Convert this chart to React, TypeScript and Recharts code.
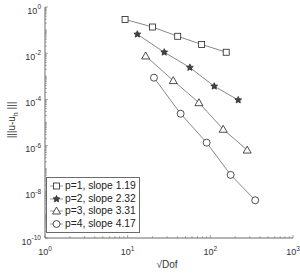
import React from 'react';
import { ScatterChart, Scatter, XAxis, YAxis, Legend } from 'recharts';

// sqrt(Dof) and energy-norm error per polynomial degree
const p1X = [9.3, 20.0, 40.3, 78.5, 155.6];
const p1Y = [0.29, 0.136, 0.054, 0.024, 0.011];
const p2X = [13.1, 27.7, 56.6, 111.5, 217.5];
const p2Y = [0.066, 0.011, 0.0024, 3.7e-4, 9.4e-5];
const p3X = [16.5, 35.6, 72.8, 143, 279];
const p3Y = [0.0076, 6.5e-4, 7.2e-5, 5.1e-6, 6.4e-7];
const p4X = [20.8, 43.7, 90.2, 176, 349];
const p4Y = [8.7e-4, 2.4e-5, 1.34e-6, 5.4e-8, 4.3e-9];

const seriesNames = ['p=1, slope 1.19', 'p=2, slope 2.32', 'p=3, slope 3.31', 'p=4, slope 4.17'];
const markers = ['square', 'star', 'triangle', 'circle'];

const xMajor = [1, 10, 100, 1000];
const yLabeled = [1e-10, 1e-8, 1e-6, 1e-4, 1e-2, 1];

const xTicks: number[] = [];
for (let d = 0; d < 3; d++) for (let k = 1; k < 10; k++) xTicks.push(k * Math.pow(10, d));
xTicks.push(1000);
const yTicks: number[] = [];
for (let d = -10; d < 0; d++) for (let k = 1; k < 10; k++) yTicks.push(k * Math.pow(10, d));
yTicks.push(1);

const zip = (xs: number[], ys: number[]) => xs.map((x, i) => ({ x, y: ys[i] }));
const series = [zip(p1X, p1Y), zip(p2X, p2Y), zip(p3X, p3Y), zip(p4X, p4Y)];

const AX = '#6b6b6b';
const TXT = '#333';
const MK = '#222';

const isMajor = (v: number, list: number[]) => list.some((m) => Math.abs(Math.log10(v) - Math.log10(m)) < 1e-6);

function Marker({ kind, cx, cy }: { kind: string; cx: number; cy: number }) {
  const s = 3;
  if (kind === 'square')
    return <rect x={cx - s} y={cy - s} width={2 * s} height={2 * s} fill="#fff" stroke={MK} strokeWidth={0.8} />;
  if (kind === 'circle') return <circle cx={cx} cy={cy} r={3.5} fill="#fff" stroke={MK} strokeWidth={0.8} />;
  if (kind === 'triangle')
    return (
      <polygon
        points={`${cx},${cy - 4} ${cx - 4},${cy + 3} ${cx + 4},${cy + 3}`}
        fill="#fff"
        stroke={MK}
        strokeWidth={0.8}
      />
    );
  const pts: string[] = [];
  for (let i = 0; i < 10; i++) {
    const r = i % 2 === 0 ? 3.6 : 1.7;
    const a = -Math.PI / 2 + (i * Math.PI) / 5;
    pts.push(`${cx + r * Math.cos(a)},${cy + r * Math.sin(a)}`);
  }
  return <polygon points={pts.join(' ')} fill="#444" stroke={MK} strokeWidth={0.7} />;
}

function Sup({ x, y, exp, anchor }: { x: number; y: number; exp: number; anchor: 'middle' | 'end' }) {
  return (
    <text x={x} y={y} textAnchor={anchor} fill={TXT} fontSize={9} fontFamily="Liberation Sans, Arial, sans-serif">
      <tspan>10</tspan>
      <tspan dy={-4.5} fontSize={6.5}>
        {exp}
      </tspan>
    </text>
  );
}

function XTick(props: any) {
  const { x, y, payload, side } = props;
  const major = isMajor(payload.value, xMajor);
  const len = major ? 3 : 1.8;
  const dir = side === 'bottom' ? -1 : 1;
  return (
    <g>
      <line x1={x} y1={y} x2={x} y2={y + dir * len} stroke={AX} strokeWidth={0.6} />
      {side === 'bottom' && major && <Sup x={x} y={y + 17} exp={Math.round(Math.log10(payload.value))} anchor="middle" />}
    </g>
  );
}

function YTick(props: any) {
  const { x, y, payload, side } = props;
  const major = isMajor(payload.value, yLabeled);
  const len = major ? 3 : 1.8;
  const dir = side === 'left' ? 1 : -1;
  return (
    <g>
      <line x1={x} y1={y} x2={x + dir * len} y2={y} stroke={AX} strokeWidth={0.6} />
      {side === 'left' && major && <Sup x={x - 4} y={y + 6.5} exp={Math.round(Math.log10(payload.value))} anchor="end" />}
    </g>
  );
}

function LegendBox() {
  return (
    <div
      style={{
        border: `1px solid ${AX}`,
        background: '#fff',
        padding: '2px 3px 2px 2px',
        fontFamily: 'Liberation Sans, Arial, sans-serif',
        fontSize: 10.3,
        color: '#222',
        lineHeight: '12px',
      }}
    >
      {seriesNames.map((name, i) => (
        <div key={name} style={{ display: 'flex', alignItems: 'center', height: 12.5 }}>
          <svg width={15} height={12} style={{ marginRight: 1 }}>
            <line x1={1} y1={6} x2={14} y2={6} stroke="#555" strokeWidth={0.6} />
            <Marker kind={markers[i]} cx={7.5} cy={6} />
          </svg>
          <span>{name}</span>
        </div>
      ))}
    </div>
  );
}

export default function App() {
  return (
    <div style={{ position: 'absolute', left: 0, top: 0, width: 300, height: 273, background: '#fff' }}>
      <ScatterChart width={300} height={273} margin={{ top: 7, right: 7, bottom: 0, left: 0 }}>
        <XAxis
          xAxisId="b"
          dataKey="x"
          type="number"
          scale="log"
          domain={[1, 1000]}
          allowDataOverflow
          ticks={xTicks}
          interval={0}
          height={35}
          tickSize={0}
          tickMargin={0}
          stroke={AX}
          tick={(p: any) => <XTick {...p} side="bottom" />}
        />
        <XAxis
          xAxisId="t"
          orientation="top"
          type="number"
          scale="log"
          domain={[1, 1000]}
          allowDataOverflow
          ticks={xTicks}
          interval={0}
          height={0}
          tickSize={0}
          tickMargin={0}
          stroke={AX}
          tick={(p: any) => <XTick {...p} side="top" />}
        />
        <YAxis
          yAxisId="l"
          dataKey="y"
          type="number"
          scale="log"
          domain={[1e-10, 1]}
          allowDataOverflow
          ticks={yTicks}
          interval={0}
          width={45}
          tickSize={0}
          tickMargin={0}
          stroke={AX}
          tick={(p: any) => <YTick {...p} side="left" />}
        />
        <YAxis
          yAxisId="r"
          orientation="right"
          type="number"
          scale="log"
          domain={[1e-10, 1]}
          allowDataOverflow
          ticks={yTicks}
          interval={0}
          width={0}
          tickSize={0}
          tickMargin={0}
          stroke={AX}
          tick={(p: any) => <YTick {...p} side="right" />}
        />
        {series.map((data, i) => (
          <Scatter
            key={seriesNames[i]}
            name={seriesNames[i]}
            data={data}
            xAxisId="b"
            yAxisId="l"
            line={{ stroke: '#555', strokeWidth: 0.7 }}
            lineType="joint"
            isAnimationActive={false}
            shape={(p: any) => <Marker kind={markers[i]} cx={p.cx} cy={p.cy} />}
          />
        ))}
        <Legend
          layout="vertical"
          align="center"
          verticalAlign="middle"
          content={() => <LegendBox />}
          wrapperStyle={{ position: 'absolute', left: 46, top: 177, width: 'auto', height: 'auto' }}
        />
        <text
          x={167}
          y={268}
          textAnchor="middle"
          fill={TXT}
          fontSize={10}
          fontFamily="Liberation Sans, Arial, sans-serif"
        >
          √Dof
        </text>
        <text
          transform="translate(15,120) rotate(-90)"
          textAnchor="middle"
          fill={TXT}
          fontSize={10}
          fontFamily="Liberation Sans, Arial, sans-serif"
        >
          <tspan>|||u-u</tspan>
          <tspan dy={3} fontSize={7}>h</tspan>
          <tspan dy={-3}> |||</tspan>
        </text>
      </ScatterChart>
    </div>
  );
}
